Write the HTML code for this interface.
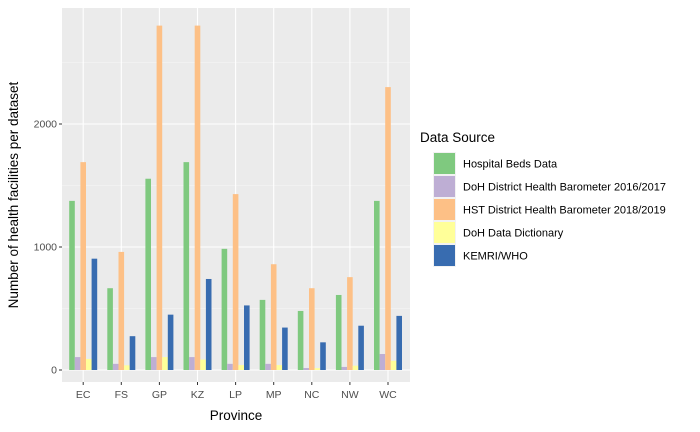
<!DOCTYPE html>
<html><head><meta charset="utf-8"><style>
body{margin:0;background:#fff;}
svg{display:block;font-family:"Liberation Sans",sans-serif;}
</style></head><body>
<svg id="chart" width="700" height="432"></svg>
<script>
const categories=["EC","FS","GP","KZ","LP","MP","NC","NW","WC"];
const seriesNames=["Hospital Beds Data","DoH District Health Barometer 2016/2017","HST District Health Barometer 2018/2019","DoH Data Dictionary","KEMRI/WHO"];
const hospitalBeds=[1375,665,1555,1690,985,570,480,610,1375];
const doh2016=[105,50,105,105,50,50,16,25,130];
const hst2018=[1690,960,2800,2800,1430,860,665,755,2300];
const dohDict=[90,38,105,85,40,40,15,35,75];
const kemri=[905,275,450,740,525,345,225,360,440];
const yTicks=[0,1000,2000];
const seriesValues=[hospitalBeds,doh2016,hst2018,dohDict,kemri];
const colors=["#7fc97f","#beaed4","#fdc086","#ffff99","#386cb0"];
const NS="http://www.w3.org/2000/svg";
const svg=document.getElementById('chart');
function mk(t,a,p){const e=document.createElementNS(NS,t);for(const k in a)e.setAttribute(k,a[k]);(p||svg).appendChild(e);return e;}
const px0=62,px1=410,py0=8,py1=382;
const unit=38.1;
function x(i){return 83.2+i*unit;}
function y(v){return 370-v*0.123;}
const panel=mk('rect',{x:px0,y:py0,width:px1-px0,height:py1-py0,fill:'#ebebeb'});


for(let t=500;t<3000;t+=1000){const g=mk('line',{x1:px0,x2:px1,y1:y(t),y2:y(t),stroke:'#f7f7f7','stroke-width':0.6});

}
yTicks.forEach(t=>{const g=mk('line',{x1:px0,x2:px1,y1:y(t),y2:y(t),stroke:'#fff','stroke-width':1.1});


const tk=mk('line',{x1:px0-3,x2:px0,y1:y(t),y2:y(t),stroke:'#333','stroke-width':1});


const l=mk('text',{x:px0-5,y:y(t)+3.5,'text-anchor':'end','font-size':'10.5',fill:'#4d4d4d'});l.textContent=t;

});
categories.forEach((c,i)=>{const g=mk('line',{x1:x(i),x2:x(i),y1:py0,y2:py1,stroke:'#fff','stroke-width':1.1});


const tk=mk('line',{x1:x(i),x2:x(i),y1:py1,y2:py1+3,stroke:'#333','stroke-width':1});


const l=mk('text',{x:x(i),y:py1+16,'text-anchor':'middle','font-size':'10.5',fill:'#4d4d4d'});l.textContent=c;

});
const bw=5.6;
seriesValues.forEach((arr,s)=>{arr.forEach((v,i)=>{const bx=x(i)-2.5*bw+s*bw;
const r=mk('rect',{x:bx,y:y(v),width:bw,height:y(0)-y(v),fill:colors[s]});

});});
const xt=mk('text',{x:(px0+px1)/2,y:420,'text-anchor':'middle','font-size':'13.5',fill:'#000'});xt.textContent='Province';


const yt=mk('text',{x:0,y:0,'text-anchor':'middle','font-size':'13.5',fill:'#000',transform:'translate(18,'+((py0+py1)/2)+') rotate(-90)'});yt.textContent='Number of health facilities per dataset';


const lt=mk('text',{x:420,y:142,'font-size':'13.5',fill:'#000'});lt.textContent='Data Source';


seriesNames.forEach((n,s)=>{const ky=152+s*23;
const bg=mk('rect',{x:433,y:ky,width:23,height:23,fill:'#f2f2f2'});


const k=mk('rect',{x:434,y:ky+1,width:21,height:21,fill:colors[s]});


const t=mk('text',{x:463,y:ky+15.5,'font-size':'11',fill:'#000'});t.textContent=n;

});
</script>
</body></html>
